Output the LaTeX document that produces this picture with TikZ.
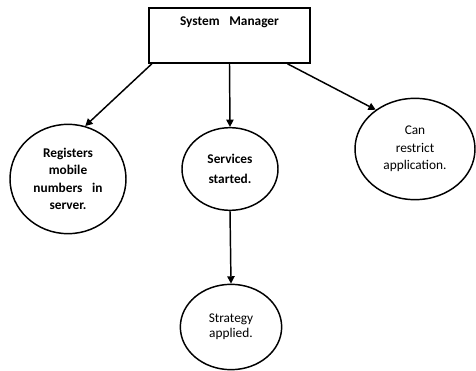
\documentclass[tikz,border=0pt]{standalone}
\usepackage{fontspec}
\setmainfont{Carlito}
\usepackage{tikz}
\usetikzlibrary{positioning,shapes.geometric,arrows.meta}

\begin{document}
\begin{tikzpicture}[
    x=0.75pt, y=-0.75pt,
    every node/.style={font=\fontsize{10}{13}\selectfont},
    mgrbox/.style={rectangle, draw, line width=1.1pt, inner sep=0pt, minimum width=120.75pt, text height=13.5pt, text depth=27.75pt, align=center},
    task/.style={ellipse, draw, line width=1.1pt, inner sep=0pt, align=center},
    arrow/.style={-{Triangle[length=5.5pt,width=5.5pt]}, line width=1.1pt}
  ]
    \useasboundingbox (0,0) rectangle (476,371);

    % Manager box (top)
    \node[mgrbox] (mgr) at (229.5,35.5) {\textbf{System\hspace{5pt} Manager}};

    % Three tasks below the manager
    \node[task, minimum width=87pt, minimum height=82pt] (reg) at (68,179) {\textbf{Registers}\\\textbf{mobile}\\\textbf{numbers\hspace{5pt} in}\\\textbf{server.}};
    \node[task, minimum width=72pt, minimum height=62pt] (srv) at (230,169) {\textbf{Services}\\[2pt]\textbf{started.}};
    \node[task, minimum width=90pt, minimum height=76pt] (rst) at (415,149) {Can\\restrict\\application.};

    % Strategy (bottom)
    \node[task, minimum width=76pt, minimum height=64pt] (stg) at (231,327) {Strategy\\[-1.5pt]applied.};

    % Arrows
    \draw[arrow] (mgr.200) -- (reg.72);
    \draw[arrow] (mgr.south) -- (srv.north);
    \draw[arrow] (mgr.-26) -- (rst.135);
    \draw[arrow] (srv.south) -- (stg.north);
\end{tikzpicture}
\end{document}
